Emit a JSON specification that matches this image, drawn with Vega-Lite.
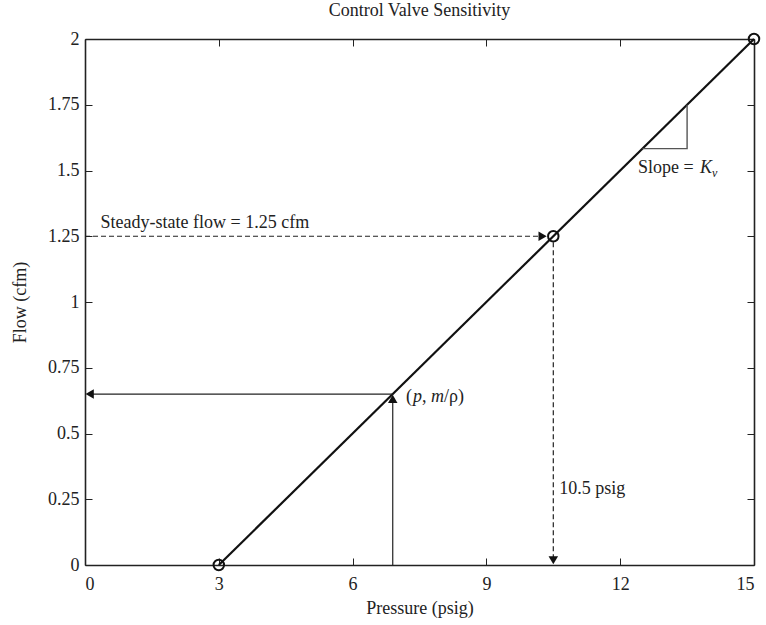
{
  "$schema": "https://vega.github.io/schema/vega-lite/v6.json",
  "width": 669,
  "height": 526,
  "autosize": {"type": "none"},
  "padding": {"left": 85, "top": 39, "right": 12, "bottom": 60},
  "background": "white",
  "title": {"text": "Control Valve Sensitivity", "fontSize": 18, "fontWeight": "normal", "font": "Liberation Serif", "color": "#222", "offset": 10, "anchor": "middle"},
  "config": {
    "view": {"stroke": null},
    "font": "Liberation Serif",
    "axis": {"domainColor": "#222", "domainWidth": 1.6, "tickColor": "#222", "tickWidth": 1, "tickSize": -7, "labelFont": "Liberation Serif", "labelFontSize": 18, "labelColor": "#222", "titleFont": "Liberation Serif", "titleFontSize": 18, "titleFontWeight": "normal", "titleColor": "#222", "grid": false}
  },
  "datasets": {
    "line": [{"x": 3, "y": 0}, {"x": 15, "y": 2}],
    "circles": [{"x": 3, "y": 0}, {"x": 10.5, "y": 1.25}, {"x": 15, "y": 2}],
    "dashed": [
      {"g": "h", "x": 0, "y": 1.25}, {"g": "h", "x": 10.26, "y": 1.25},
      {"g": "v", "x": 10.5, "y": 1.227}, {"g": "v", "x": 10.5, "y": 0.018}
    ],
    "solid": [
      {"g": "h", "x": 6.9, "y": 0.65}, {"g": "h", "x": 0.1, "y": 0.65},
      {"g": "v", "x": 6.9, "y": 0}, {"g": "v", "x": 6.9, "y": 0.632}
    ],
    "triangle": [{"x": 12.5, "y": 1.583}, {"x": 13.5, "y": 1.583}, {"x": 13.5, "y": 1.75}],
    "heads": [
      {"dir": "left", "x": 0.105, "y": 0.65},
      {"dir": "up", "x": 6.9, "y": 0.632},
      {"dir": "right", "x": 10.26, "y": 1.25},
      {"dir": "down", "x": 10.5, "y": 0.018}
    ],
    "pm": [{"x": 7.2, "y": 0.64}],
    "slope": [{"x": 12.4, "y": 1.51}]
  },
  "resolve": {"axis": {"x": "independent", "y": "independent"}},
  "layer": [
    {
      "data": {"name": "line"},
      "mark": {"type": "line", "color": "#111", "strokeWidth": 2.2},
      "encoding": {
        "x": {"field": "x", "type": "quantitative", "scale": {"domain": [0, 15], "nice": false, "zero": false},
              "axis": {"orient": "bottom", "values": [0, 3, 6, 9, 12, 15], "title": "Pressure (psig)", "labelPadding": 17, "titlePadding": 6}},
        "y": {"field": "y", "type": "quantitative", "scale": {"domain": [0, 2], "nice": false, "zero": false},
              "axis": {"orient": "left", "values": [0, 0.25, 0.5, 0.75, 1, 1.25, 1.5, 1.75, 2], "labelExpr": "'' + datum.value", "title": "Flow (cfm)", "labelPadding": 13, "titlePadding": 18}}
      }
    },
    {
      "data": {"name": "dashed"},
      "mark": {"type": "line", "color": "#222", "strokeWidth": 1.2, "strokeDash": [5, 3]},
      "encoding": {
        "x": {"field": "x", "type": "quantitative", "axis": null},
        "y": {"field": "y", "type": "quantitative", "axis": null},
        "detail": {"field": "g"}
      }
    },
    {
      "data": {"name": "solid"},
      "mark": {"type": "line", "color": "#222", "strokeWidth": 1.2},
      "encoding": {
        "x": {"field": "x", "type": "quantitative", "axis": null},
        "y": {"field": "y", "type": "quantitative", "axis": null},
        "detail": {"field": "g"}
      }
    },
    {
      "data": {"name": "triangle"},
      "mark": {"type": "line", "color": "#555", "strokeWidth": 1.4},
      "encoding": {
        "x": {"field": "x", "type": "quantitative", "axis": null},
        "y": {"field": "y", "type": "quantitative", "axis": null}
      }
    },
    {
      "data": {"name": "circles"},
      "mark": {"type": "point", "shape": "circle", "filled": false, "stroke": "#111", "strokeWidth": 2, "size": 110, "opacity": 1},
      "encoding": {
        "x": {"field": "x", "type": "quantitative",
              "axis": {"orient": "top", "values": [0, 3, 6, 9, 12, 15], "labels": false, "title": null}},
        "y": {"field": "y", "type": "quantitative",
              "axis": {"orient": "right", "values": [0, 0.25, 0.5, 0.75, 1, 1.25, 1.5, 1.75, 2], "labels": false, "title": null}}
      }
    },
    {
      "data": {"name": "heads"},
      "mark": {"type": "point", "filled": true, "color": "#111", "size": 90, "opacity": 1},
      "encoding": {
        "x": {"field": "x", "type": "quantitative", "axis": null},
        "y": {"field": "y", "type": "quantitative", "axis": null},
        "shape": {"field": "dir", "type": "nominal", "legend": null,
                  "scale": {"domain": ["left", "up", "right", "down"], "range": ["triangle-left", "triangle-up", "triangle-right", "triangle-down"]}}
      }
    },
    {
      "data": {"values": [{"x": 0.35, "y": 1.25, "label": "Steady-state flow = 1.25 cfm"}]},
      "mark": {"type": "text", "align": "left", "baseline": "bottom", "dy": -4, "fontSize": 18, "color": "#222"},
      "encoding": {
        "x": {"field": "x", "type": "quantitative", "axis": null},
        "y": {"field": "y", "type": "quantitative", "axis": null},
        "text": {"field": "label"}
      }
    },
    {
      "data": {"values": [{"x": 10.5, "y": 0.29, "label": "10.5 psig"}]},
      "mark": {"type": "text", "align": "left", "baseline": "middle", "dx": 6, "fontSize": 18, "color": "#222"},
      "encoding": {
        "x": {"field": "x", "type": "quantitative", "axis": null},
        "y": {"field": "y", "type": "quantitative", "axis": null},
        "text": {"field": "label"}
      }
    },
    {
      "data": {"name": "pm"},
      "mark": {"type": "text", "align": "left", "baseline": "middle", "fontSize": 18, "color": "#222", "text": "("},
      "encoding": {"x": {"field": "x", "type": "quantitative", "axis": null}, "y": {"field": "y", "type": "quantitative", "axis": null}}
    },
    {
      "data": {"name": "pm"},
      "mark": {"type": "text", "align": "left", "baseline": "middle", "fontSize": 18, "fontStyle": "italic", "dx": 7, "color": "#222", "text": "p"},
      "encoding": {"x": {"field": "x", "type": "quantitative", "axis": null}, "y": {"field": "y", "type": "quantitative", "axis": null}}
    },
    {
      "data": {"name": "pm"},
      "mark": {"type": "text", "align": "left", "baseline": "middle", "fontSize": 18, "dx": 16, "color": "#222", "text": ","},
      "encoding": {"x": {"field": "x", "type": "quantitative", "axis": null}, "y": {"field": "y", "type": "quantitative", "axis": null}}
    },
    {
      "data": {"name": "pm"},
      "mark": {"type": "text", "align": "left", "baseline": "middle", "fontSize": 18, "fontStyle": "italic", "dx": 25, "color": "#222", "text": "m"},
      "encoding": {"x": {"field": "x", "type": "quantitative", "axis": null}, "y": {"field": "y", "type": "quantitative", "axis": null}}
    },
    {
      "data": {"name": "pm"},
      "mark": {"type": "text", "align": "left", "baseline": "middle", "fontSize": 18, "dx": 38, "color": "#222", "text": "/ρ)"},
      "encoding": {"x": {"field": "x", "type": "quantitative", "axis": null}, "y": {"field": "y", "type": "quantitative", "axis": null}}
    },
    {
      "data": {"name": "slope"},
      "mark": {"type": "text", "align": "left", "baseline": "middle", "fontSize": 18, "color": "#222", "text": "Slope ="},
      "encoding": {"x": {"field": "x", "type": "quantitative", "axis": null}, "y": {"field": "y", "type": "quantitative", "axis": null}}
    },
    {
      "data": {"name": "slope"},
      "mark": {"type": "text", "align": "left", "baseline": "middle", "fontSize": 18, "fontStyle": "italic", "dx": 62, "color": "#222", "text": "K"},
      "encoding": {"x": {"field": "x", "type": "quantitative", "axis": null}, "y": {"field": "y", "type": "quantitative", "axis": null}}
    },
    {
      "data": {"name": "slope"},
      "mark": {"type": "text", "align": "left", "baseline": "middle", "fontSize": 12, "fontStyle": "italic", "dx": 74, "dy": 5, "color": "#222", "text": "v"},
      "encoding": {"x": {"field": "x", "type": "quantitative", "axis": null}, "y": {"field": "y", "type": "quantitative", "axis": null}}
    }
  ]
}
